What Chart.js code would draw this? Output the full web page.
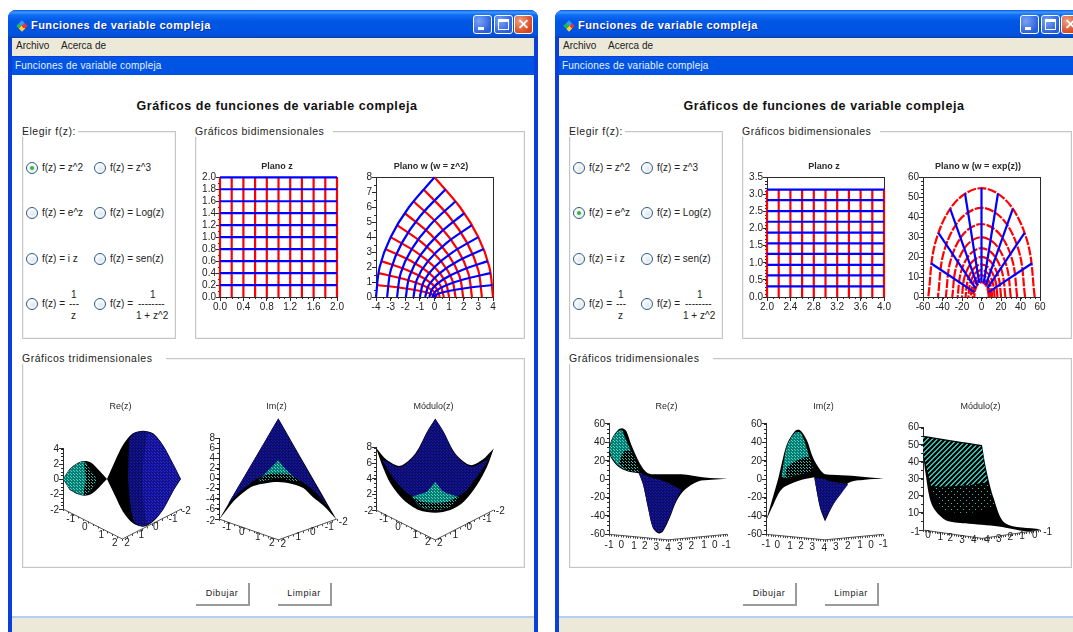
<!DOCTYPE html>
<html lang="es">
<head>
<meta charset="utf-8">
<title>Funciones de variable compleja</title>
<script src="https://cdn.jsdelivr.net/npm/chart.js@4/dist/chart.umd.min.js"></script>
<style>
html, body { margin: 0; width: 1073px; height: 632px; overflow: hidden; background: #fff; font-family: "Liberation Sans", Arial, sans-serif; color: #111; }
.box { position: absolute; box-sizing: border-box; white-space: nowrap; }
.frame { background: #0a3fdc; border-radius: 8px 8px 0 0; }
.bar { background: linear-gradient(#0a5ae8 0%, #3d95ff 8%, #0f6ef5 18%, #0256e4 40%, #0054e3 80%, #0a4fd0 92%, #003fb8 100%); border-radius: 8px 8px 0 0; }
.wintitle { color: #fff; font-weight: bold; font-size: 11px; letter-spacing: .45px; text-shadow: 1px 1px 0 #0f2f9a; }
.btn { border: 1px solid #fff; border-radius: 3px; background: radial-gradient(circle at 30% 30%, #7aa2f5, #2a5fdc 75%); }
.btn.close { background: radial-gradient(circle at 30% 30%, #f0a080, #d8431c 75%); }
.btn i { position: absolute; display: block; box-sizing: border-box; }
.panel { border: 1px solid #c6c6c6; box-shadow: inset 0 0 0 1px #f2f2f2; }
.legend { background: #fff; font-size: 10.5px; letter-spacing: .5px; padding-right: 7px; color: #222; }
.small { font-size: 10px; color: #222; }
.radio { border: 1px solid #2a5a88; border-radius: 50%; background: radial-gradient(circle at 60% 60%, #dfe6ee, #fff 70%); }
.radio.on::after { content: ""; position: absolute; left: 3px; top: 3px; width: 4px; height: 4px; border-radius: 50%; background: #35b53a; }
.push { border-right: 2px solid #9a9a9a; border-bottom: 2px solid #9a9a9a; font-size: 9px; letter-spacing: .6px; text-align: center; line-height: 21px; color: #222; }
</style>
</head>
<body>
<script>
const FONT = '"Liberation Sans", Arial, sans-serif';
const AXIS = '#2a2a2a';
const RED = '#ff0000';
const BLUE = '#0000ff';

// --- window text ---
const windowTitle = 'Funciones de variable compleja';
const heading = 'Gráficos de funciones de variable compleja';
const menuItems = ['Archivo', 'Acerca de'];
const radioLabels = ['f(z) = z^2', 'f(z) = z^3', 'f(z) = e^z', 'f(z) = Log(z)', 'f(z) = i z', 'f(z) = sen(z)', 'f(z) =', 'f(z) ='];

// --- Plano z, f = z^2 ---
const z1RedX = [0, 0.2, 0.4, 0.6, 0.8, 1, 1.2, 1.4, 1.6, 1.8, 2];
const z1BlueY = [0.2, 0.4, 0.6, 0.8, 1, 1.2, 1.4, 1.6, 1.8, 2];
const z1XTicks = [0, 0.4, 0.8, 1.2, 1.6, 2];
const z1XLabels = ['0.0', '0.4', '0.8', '1.2', '1.6', '2.0'];
const z1YTicks = [0, 0.2, 0.4, 0.6, 0.8, 1, 1.2, 1.4, 1.6, 1.8, 2];
const z1YLabels = ['0.0', '0.2', '0.4', '0.6', '0.8', '1.0', '1.2', '1.4', '1.6', '1.8', '2.0'];

// --- Plano w, w = z^2 ---
const w1Blue = [
  [[-.04, 0], [.21, .2], [.96, .4], [2.21, .6], [3.96, .8]],
  [[-.16, 0], [.09, .4], [.84, .8], [2.09, 1.2], [3.84, 1.6]],
  [[-.36, 0], [-.11, .6], [.64, 1.2], [1.89, 1.8], [3.64, 2.4]],
  [[-.64, 0], [-.39, .8], [.36, 1.6], [1.61, 2.4], [3.36, 3.2]],
  [[-1, 0], [-.75, 1], [0, 2], [1.25, 3], [3, 4]],
  [[-1.44, 0], [-1.19, 1.2], [-.44, 2.4], [.81, 3.6], [2.56, 4.8]],
  [[-1.96, 0], [-1.71, 1.4], [-.96, 2.8], [.29, 4.2], [2.04, 5.6]],
  [[-2.56, 0], [-2.31, 1.6], [-1.56, 3.2], [-.31, 4.8], [1.44, 6.4]],
  [[-3.24, 0], [-2.99, 1.8], [-2.24, 3.6], [-.99, 5.4], [.76, 7.2]],
  [[-4, 0], [-3.75, 2], [-3, 4], [-1.75, 6], [0, 8]],
];
const w1Red = [
  [[.04, 0], [-.21, .2], [-.96, .4], [-2.21, .6], [-3.96, .8]],
  [[.16, 0], [-.09, .4], [-.84, .8], [-2.09, 1.2], [-3.84, 1.6]],
  [[.36, 0], [.11, .6], [-.64, 1.2], [-1.89, 1.8], [-3.64, 2.4]],
  [[.64, 0], [.39, .8], [-.36, 1.6], [-1.61, 2.4], [-3.36, 3.2]],
  [[1, 0], [.75, 1], [0, 2], [-1.25, 3], [-3, 4]],
  [[1.44, 0], [1.19, 1.2], [.44, 2.4], [-.81, 3.6], [-2.56, 4.8]],
  [[1.96, 0], [1.71, 1.4], [.96, 2.8], [-.29, 4.2], [-2.04, 5.6]],
  [[2.56, 0], [2.31, 1.6], [1.56, 3.2], [.31, 4.8], [-1.44, 6.4]],
  [[3.24, 0], [2.99, 1.8], [2.24, 3.6], [.99, 5.4], [-.76, 7.2]],
  [[4, 0], [3.75, 2], [3, 4], [1.75, 6], [0, 8]],
];
const w1XTicks = [-4, -3, -2, -1, 0, 1, 2, 3, 4];
const w1XLabels = ['-4', '-3', '-2', '-1', '0', '1', '2', '3', '4'];
const w1YTicks = [0, 1, 2, 3, 4, 5, 6, 7, 8];
const w1YLabels = ['0', '1', '2', '3', '4', '5', '6', '7', '8'];

// --- Plano z, f = e^z ---
const z2RedX = [2, 2.2, 2.4, 2.6, 2.8, 3, 3.2, 3.4, 3.6, 3.8, 4];
const z2RedTop = 3.14;
const z2BlueY = [.31, .63, .94, 1.26, 1.57, 1.88, 2.2, 2.51, 2.83, 3.14];
const z2XTicks = [2, 2.4, 2.8, 3.2, 3.6, 4];
const z2XLabels = ['2.0', '2.4', '2.8', '3.2', '3.6', '4.0'];
const z2YTicks = [0, .5, 1, 1.5, 2, 2.5, 3, 3.5];
const z2YLabels = ['0.0', '0.5', '1.0', '1.5', '2.0', '2.5', '3.0', '3.5'];

// --- Plano w, w = exp(z) ---
const w2Red = [
  [[7.4, 0], [6.4, 3.7], [3.7, 6.4], [0, 7.4], [-3.7, 6.4], [-6.4, 3.7], [-7.4, 0]],
  [[9, 0], [7.8, 4.5], [4.5, 7.8], [0, 9], [-4.5, 7.8], [-7.8, 4.5], [-9, 0]],
  [[11, 0], [9.5, 5.5], [5.5, 9.5], [0, 11], [-5.5, 9.5], [-9.5, 5.5], [-11, 0]],
  [[13.5, 0], [11.7, 6.8], [6.8, 11.7], [0, 13.5], [-6.8, 11.7], [-11.7, 6.8], [-13.5, 0]],
  [[16.4, 0], [14.2, 8.2], [8.2, 14.2], [0, 16.4], [-8.2, 14.2], [-14.2, 8.2], [-16.4, 0]],
  [[20.1, 0], [17.4, 10], [10, 17.4], [0, 20.1], [-10, 17.4], [-17.4, 10], [-20.1, 0]],
  [[24.5, 0], [21.2, 12.3], [12.3, 21.2], [0, 24.5], [-12.3, 21.2], [-21.2, 12.3], [-24.5, 0]],
  [[30, 0], [26, 15], [15, 26], [0, 30], [-15, 26], [-26, 15], [-30, 0]],
  [[36.6, 0], [31.7, 18.3], [18.3, 31.7], [0, 36.6], [-18.3, 31.7], [-31.7, 18.3], [-36.6, 0]],
  [[44.7, 0], [38.7, 22.4], [22.4, 38.7], [0, 44.7], [-22.4, 38.7], [-38.7, 22.4], [-44.7, 0]],
  [[54.6, 0], [47.3, 27.3], [27.3, 47.3], [0, 54.6], [-27.3, 47.3], [-47.3, 27.3], [-54.6, 0]],
];
const w2Blue = [
  [[7, 2.3], [51.9, 16.9]],
  [[6, 4.3], [44.2, 32.1]],
  [[4.3, 6], [32.1, 44.2]],
  [[2.3, 7], [16.9, 51.9]],
  [[0, 7.4], [0, 54.6]],
  [[-2.3, 7], [-16.9, 51.9]],
  [[-4.3, 6], [-32.1, 44.2]],
  [[-6, 4.3], [-44.2, 32.1]],
  [[-7, 2.3], [-51.9, 16.9]],
];
const w2XTicks = [-60, -40, -20, 0, 20, 40, 60];
const w2XLabels = ['-60', '-40', '-20', '0', '20', '40', '60'];
const w2YTicks = [0, 10, 20, 30, 40, 50, 60];
const w2YLabels = ['0', '10', '20', '30', '40', '50', '60'];

// --- 3D surfaces: x is the position along the projected floor, y the function value.
// a repeated point keeps a sharp corner in the outline
const reLobeA = [[0, 0], [6.7, 1.33], [15, 2.18], [21.7, 2.4], [28.3, 2.18], [36.7, 1.07], [44, 0], [44, 0], [36.7, -1.02], [28.3, -2], [21.7, -2.22], [15, -2.04], [6.7, -1.47]];
const reLobeACyan = [[0, 0], [6.7, 1.24], [15, 2.09], [21.7, 2.31], [25, 1.64], [33, -.13], [25, -1.91], [20, -2.13], [15, -1.96], [6.7, -1.38]];
const reLobeADim = [[21, 2.2], [25, 1.6], [33, -.13], [25, -1.9], [21, -2.1], [23, 0]];
const reLobeB = [[44, 0], [51.7, 2.31], [60, 4.53], [70, 6.09], [80, 6.44], [90, 6.09], [100, 4.53], [110, 2.09], [118, 0], [118, 0], [110, -1.69], [100, -4.13], [90, -5.69], [80, -6.36], [70, -5.91], [60, -4.36], [51.7, -2.13]];
const reLobeBBlue = [[66, 5.2], [70, 6], [80, 6.36], [90, 6], [100, 4.45], [110, 2], [117.2, 0], [117.2, 0], [110, -1.6], [100, -4.05], [90, -5.6], [80, -6.28], [72, -5.85], [68, -4], [65, 0]];
const reLobeBBright = [[84, 6.1], [90, 5.9], [100, 4.35], [110, 1.9], [116.8, 0], [116.8, 0], [110, -1.5], [100, -3.95], [90, -5.5], [84, -5.9], [80, -2], [80, 2]];
const reTicks = [-4, -2, 0, 2, 4];
const reLabels = ['', '-2', '0', '2', '4'];
const reFloor = [[0, -4], [59.3, -8], [118.3, -4]];
const reFloorLabels = [[-8.3, -4.13, '-2'], [7.7, -5.33, '-1'], [21.7, -6.44, '0'], [38.3, -7.47, '1'], [51.7, -8.5, '2'], [64, -8.58, '2'], [78.3, -7.47, '1'], [92.7, -6.44, '0'], [110, -5.33, '-1'], [123.3, -4.36, '-2']];

const imShape = [[0, -8.13], [59.3, 12], [59.3, 12], [117.7, -8.13], [117.7, -8.13], [104.3, -5.33], [94, -3.7], [84.3, -1.87], [72, -1], [59.3, -.67], [47, -.9], [34.3, -1.47], [24, -2.8], [14.3, -4.53], [6, -6.6]];
const imBlue = [[59.3, 11.87], [59.3, 11.87], [109.3, -5.67], [109.3, -5.67], [94.3, -2.3], [77.7, 0], [59.3, 1.3], [41, .3], [24.3, -2], [9.3, -4.9], [9.3, -4.9]];
const imCyan = [[59.3, 3.67], [67.7, 1.67], [81, -.67], [81, -.67], [59.3, .13], [38.3, -.67], [38.3, -.67], [49.3, 1.67]];
const imCyanDim = [[38.3, -.67], [48, .8], [70, .8], [81, -.67], [59.3, .13]];
const imTicks = [-8, -6, -4, -2, 0, 2, 4, 6, 8];
const imLabels = ['', '-6', '-4', '-2', '0', '2', '4', '6', '8'];
const imFloor = [[0, -8], [59.3, -12.13], [117.7, -8]];
const imFloorLabels = [[-8.3, -8.53, '-2'], [7.7, -9.67, '-1'], [22.7, -10.67, '0'], [38.7, -11.67, '1'], [52.7, -12.87, '2'], [64.3, -13, '2'], [79.3, -11.67, '1'], [93.7, -10.67, '0'], [110.3, -9.67, '-1'], [124.3, -8.67, '-2']];

const modShape = [[0, 8], [11, 6.41], [24.3, 5.68], [39.3, 7.26], [51, 10.04], [59.3, 11.75], [59.3, 11.75], [67.7, 10.04], [79.3, 7.26], [94.3, 5.77], [106, 6.41], [117.7, 7.91], [117.7, 7.91], [111, 5.56], [101, 3.21], [87.7, 1.07], [74.3, 0], [59.3, -.34], [42.7, 0], [27.7, 1.28], [14.3, 3.42], [6, 5.77]];
const modBlue = [[59.3, 11.67], [59.3, 11.67], [67.7, 9.96], [79.3, 7.1], [94.3, 5.6], [107.7, 6.2], [114.3, 6.84], [114.3, 6.84], [101, 4.27], [84.3, 1.92], [59.3, 1.5], [34.3, 1.92], [17.7, 4.06], [6, 6.41], [6, 6.41], [11, 6.2], [24.3, 5.5], [39.3, 7.1], [51, 9.96]];
const modCyan = [[59.3, 3.63], [67.7, 2.35], [82.7, 1.71], [82.7, 1.71], [74.3, .43], [59.3, 0], [44.3, .43], [36, 1.71], [36, 1.71], [51, 2.35]];
const modCyanDim = [[36, 1.71], [48, 1], [70, 1], [82.7, 1.71], [74.3, .43], [59.3, 0], [44.3, .43]];
const modTicks = [0, 2, 4, 6, 8];
const modLabels = ['', '2', '4', '6', '8'];
const modFloor = [[0, 0], [59.3, -3.85], [117.7, 0]];
const modFloorLabels = [[-7.3, -.21, '-2'], [7.7, -1.15, '-1'], [22, -2.22, '0'], [39.3, -3.2, '1'], [51.7, -4.19, '2'], [63.7, -4.27, '2'], [79.3, -3.2, '1'], [93.3, -2.22, '0'], [111, -1.15, '-1'], [124.3, -.21, '-2']];

const expReShape = [[0, 35.5], [4, 46.4], [9, 53.6], [13, 55.4], [17.3, 52.5], [22.3, 37.3], [30.7, 17.4], [39, 6.5], [52.3, 5.4], [72.3, 5.2], [95.7, 1.8], [118.3, .4], [118.3, .4], [102.3, -.7], [89, -2.5], [75.7, -11.6], [67.3, -24.3], [60.7, -42.4], [54, -56.9], [49.7, -59], [44, -53.3], [39, -31.5], [34, -6.2], [29.7, 6.5], [29.7, 6.5], [19, 8.3], [9, 13.8], [2.3, 22.8], [0, 28.3]];
const expReCyan = [[0, 33], [4, 45], [9, 52], [13, 53.5], [15, 48], [22, 30], [29.5, 8], [29.5, 8], [19, 9.5], [9, 15], [2.3, 24]];
const expReCyanDim = [[10, 16], [15, 30], [22, 30], [29.5, 8], [19, 9.5]];
const expReBlue = [[29.7, 7.6], [29.7, 7.6], [34, -5], [39, -31], [44, -53], [49.7, -58], [54, -55], [60.7, -40.6], [67.3, -22.5], [72.3, -11.6], [72.3, -11.6], [55.7, -2.5], [39, 2.9]];
const expImShape = [[0, -45.3], [12.3, 1.1], [20.7, 37.3], [29, 52.5], [34, 53.3], [40.7, 42.8], [47.3, 22.8], [57.3, 6.5], [65.7, 4.7], [85.7, 3.6], [117.3, .4], [117.3, .4], [99, -.7], [82.3, -4.3], [69, -24.3], [59, -46], [59, -46], [54, -31.5], [48.3, 2], [48.3, 2], [32, -2], [15.7, -10.9], [5.7, -31.5]];
const expImCyan = [[15.7, 3], [15.7, 3], [20.7, 35], [29, 50.5], [35, 50], [42.3, 28], [46.3, 10], [46.3, 10], [32, 4.7], [19, 1.1]];
const expImCyanDim = [[19, 1.1], [22, 14], [42, 24], [46.3, 10], [32, 4.7]];
const expImBlue = [[48.3, 1.1], [48.3, 1.1], [54, -30], [59, -44], [59, -44], [65.7, -30], [75.7, -15], [82.3, -5.5], [82.3, -5.5], [65.7, -2.5], [55.7, 1.1]];
const expTicks = [-60, -40, -20, 0, 20, 40, 60];
const expLabels = ['-60', '-40', '-20', '0', '20', '40', '60'];
const expReFloor = [[0, -60], [59, -66], [118.3, -60]];
const expReFloorLabels = [[0, -71.4, '-1'], [12.3, -71.4, '0'], [25, -73.2, '1'], [35.7, -73.2, '2'], [47.3, -74.3, '3'], [59, -75, '4'], [70.7, -74.3, '3'], [82.3, -73.2, '2'], [95, -72.1, '1'], [105.7, -71.4, '0'], [117.3, -71.4, '-1']];
const expImFloor = [[0, -60], [59, -66], [117.3, -60]];
const expImFloorLabels = [[0, -70.7, '-1'], [11.3, -71.4, '0'], [24, -73.2, '1'], [35, -73.2, '2'], [46.3, -74.3, '3'], [58.3, -75, '4'], [69.7, -74.3, '3'], [81.7, -73.2, '2'], [94, -72.1, '1'], [105, -71.4, '0'], [117.3, -70.7, '-1']];

const expModShape = [[0, 55.3], [59, 49.8], [59, 49.8], [63, 36.1], [70.7, 18.6], [82.3, 3.9], [117.3, .4], [117.3, .4], [105.7, -1], [75.7, 2], [42.3, 3.9], [22.3, 5.9], [9, 14.6], [2.3, 34.2], [0, 45.9]];
const expModCyan = [[0, 54.5], [59, 49], [59, 49], [62, 36], [65, 28], [65, 28], [28, 25], [8, 26], [8, 26], [3, 38], [0, 46]];
const expModSparse = [[8, 25], [65, 27], [65, 27], [72, 14], [72, 14], [45, 10], [20, 11], [20, 11]];
const expModTicks = [0, 10, 20, 30, 40, 50, 60];
const expModLabels = ['', '10', '20', '30', '40', '50', '60'];
const expModFloor = [[0, 0], [59, -4.9], [117.3, 0]];
const expModFloorLabels = [[-7.7, -1.4, '-1'], [5, -3.3, '0'], [17.3, -4.4, '1'], [27.3, -4.9, '2'], [39, -5.9, '3'], [50.7, -6.2, '4'], [64, -6.2, '4'], [75.7, -5.3, '3'], [87.3, -4.4, '2'], [99, -3.8, '1'], [111.7, -2.9, '0'], [124.7, -1.4, '-1']];

// --- window furniture ---
function put(cls, x, y, w, h, html) {
  const d = document.createElement('div');
  d.className = 'box ' + cls;
  d.style.left = x + 'px';
  d.style.top = y + 'px';
  if (w) d.style.width = w + 'px';
  if (h) d.style.height = h + 'px';
  if (html) d.innerHTML = html;
  document.body.append(d);
  return d;
}

function buildWindow(off, selected) {
  put('frame', 8 + off, 10, 530, 622);
  put('bar', 8 + off, 10, 530, 28);
  const icon = put('', 18 + off, 22, 8, 8);
  icon.style.background = 'conic-gradient(#e33 0 25%, #fc3 0 50%, #2b4 0 75%, #39f 0)';
  icon.style.transform = 'rotate(45deg)';
  put('wintitle', 31 + off, 19, 0, 0, windowTitle);
  put('btn', 473 + off, 15, 19, 19, '<i style="left:4px;bottom:3px;width:6px;height:3px;background:#fff"></i>');
  put('btn', 494 + off, 15, 19, 19, '<i style="left:3px;top:3px;width:11px;height:11px;border:1px solid #fff;border-top-width:3px"></i>');
  put('btn close', 514 + off, 15, 19, 19, '<i style="left:3px;top:7px;width:11px;height:2px;background:#fff;transform:rotate(45deg)"></i><i style="left:3px;top:7px;width:11px;height:2px;background:#fff;transform:rotate(-45deg)"></i>');
  put('', 12 + off, 38, 522, 18).style.background = '#ece9d8';
  put('small', 16 + off, 40, 0, 0, menuItems[0]);
  put('small', 61 + off, 40, 0, 0, menuItems[1]);
  put('', 12 + off, 57, 522, 18).style.background = '#0054e3';
  const sub = put('small', 15 + off, 60, 0, 0, windowTitle);
  sub.style.color = '#e8f0ff';
  sub.style.letterSpacing = '.2px';
  put('', 12 + off, 75, 522, 541).style.background = '#fff';
  put('', 12 + off, 616, 522, 2).style.background = '#b4cdf0';
  put('', 12 + off, 618, 522, 14).style.background = '#ece9d8';
  const head = put('', off, 99, 554, 0, heading);
  head.style.cssText += 'text-align:center;font-weight:bold;font-size:12.5px;letter-spacing:.55px';

  put('panel', 22 + off, 131, 154, 208);
  put('panel', 195 + off, 131, 330, 208);
  put('panel', 22 + off, 358, 503, 210);
  put('legend', 22 + off, 125, 0, 0, 'Elegir f(z):').style.width = '56px';
  put('legend', 195 + off, 125, 0, 0, 'Gráficos bidimensionales').style.width = '138px';
  put('legend', 22 + off, 352, 0, 0, 'Gráficos tridimensionales').style.width = '144px';

  const rowY = [168, 213, 259, 304];
  radioLabels.forEach((text, i) => {
    const cx = i % 2 ? 100 : 32;
    const y = rowY[i >> 1];
    put('radio' + (i === selected ? ' on' : ''), cx - 6 + off, y - 6, 12, 12);
    put('small', cx + 10 + off, y - 6, 0, 0, text);
  });
  put('small', 71 + off, 289, 0, 0, '1');
  put('small', 69 + off, 298, 0, 0, '---');
  put('small', 71 + off, 310, 0, 0, 'z');
  put('small', 150 + off, 289, 0, 0, '1');
  put('small', 138 + off, 298, 0, 0, '--------');
  put('small', 136 + off, 310, 0, 0, '1 + z^2');

  put('push', 196 + off, 583, 54, 23, 'Dibujar');
  put('push', 278 + off, 583, 54, 23, 'Limpiar');
}

// --- chart helpers ---
function dotFill(bg, fg, size) {
  const c = document.createElement('canvas');
  c.width = c.height = size;
  const g = c.getContext('2d');
  g.fillStyle = bg;
  g.fillRect(0, 0, size, size);
  g.fillStyle = fg;
  g.fillRect(0, 0, 1, 1);
  if (size > 2) g.fillRect(size >> 1, size >> 1, 1, 1);
  return g.createPattern(c, 'repeat');
}

function stripeFill(bg, fg, size) {
  const c = document.createElement('canvas');
  c.width = c.height = size;
  const g = c.getContext('2d');
  g.fillStyle = bg;
  g.fillRect(0, 0, size, size);
  g.fillStyle = fg;
  for (let i = 0; i < size; i++) {
    g.fillRect(i, size - 1 - i, 1, 1);
    g.fillRect((i + 1) % size, size - 1 - i, 1, 1);
  }
  return g.createPattern(c, 'repeat');
}

const plotExtras = {
  id: 'plotExtras',
  afterLayout(chart) {
    // title centred on the whole canvas, not on the padded box
    chart.titleBlock.left = 0;
    chart.titleBlock.right = chart.width;
  },
  beforeDatasetsDraw(chart, args, o) {
    const { ctx, chartArea: a, scales } = chart;
    ctx.save();
    ctx.strokeStyle = AXIS;
    ctx.lineWidth = 1;
    if (o.frame) ctx.strokeRect(Math.round(a.left) + .5, Math.round(a.top) + .5, Math.round(a.width), Math.round(a.height));
    ctx.beginPath();
    if (o.minorX) {
      const s = scales.x;
      for (let v = s.min; v <= s.max + 1e-6; v += o.minorX) {
        const p = Math.round(s.getPixelForValue(v)) + .5;
        ctx.moveTo(p, a.bottom);
        ctx.lineTo(p, a.bottom + 2);
      }
    }
    if (o.minorY) {
      const s = scales.y;
      for (let v = s.min; v <= s.max + 1e-6; v += o.minorY) {
        const p = Math.round(s.getPixelForValue(v)) + .5;
        ctx.moveTo(a.left, p);
        ctx.lineTo(a.left - 2, p);
      }
    }
    ctx.stroke();
    ctx.restore();
  },
  beforeDatasetDraw(chart, args) {
    const fill = chart.data.datasets[args.index].surface;
    if (!fill) return;
    const { ctx } = chart;
    const line = args.meta.dataset;
    line.updateControlPoints(chart.chartArea);
    ctx.save();
    ctx.fillStyle = fill;
    ctx.beginPath();
    line.path(ctx);
    ctx.closePath();
    ctx.fill();
    ctx.restore();
  },
  afterDatasetsDraw(chart, args, o) {
    if (!o.floorLabels) return;
    const { ctx, scales } = chart;
    ctx.save();
    // small ticks along the two floor edges
    ctx.strokeStyle = '#444';
    ctx.lineWidth = 1;
    ctx.beginPath();
    for (let k = 0; k + 1 < o.floor.length; k++) {
      const x0 = scales.x.getPixelForValue(o.floor[k][0]);
      const y0 = scales.y.getPixelForValue(o.floor[k][1]);
      const x1 = scales.x.getPixelForValue(o.floor[k + 1][0]);
      const y1 = scales.y.getPixelForValue(o.floor[k + 1][1]);
      for (let t = 0; t <= o.floorTicks; t++) {
        const x = Math.round(x0 + (x1 - x0) * t / o.floorTicks) + .5;
        const y = y0 + (y1 - y0) * t / o.floorTicks;
        ctx.moveTo(x, y);
        ctx.lineTo(x, y + 2);
      }
    }
    ctx.stroke();
    ctx.font = '10px ' + FONT;
    ctx.fillStyle = '#222';
    ctx.textAlign = 'center';
    ctx.textBaseline = 'middle';
    o.floorLabels.forEach(([x, y, text]) => ctx.fillText(text, scales.x.getPixelForValue(x), scales.y.getPixelForValue(y)));
    ctx.restore();
  },
};

function axis(position, values, labels, fit) {
  return {
    type: 'linear',
    position,
    min: values[0],
    max: values[values.length - 1],
    afterBuildTicks(s) { s.ticks = values.map((v) => ({ value: v })); },
    afterFit(s) { if (position === 'bottom') s.height = fit; else s.width = fit; },
    grid: { drawOnChartArea: false, tickLength: 4, tickColor: AXIS },
    border: { color: AXIS },
    ticks: { autoSkip: false, maxRotation: 0, padding: 0, color: '#222', font: { size: 10, family: FONT }, callback: (v, i) => labels[i] },
  };
}

function pairs(list) {
  return list.map(([x, y]) => ({ x, y }));
}

function lineSet(points, color, extra) {
  return { data: pairs(points), showLine: true, borderColor: color, borderWidth: 2.2, pointRadius: 0, clip: false, tension: 0, capBezierPoints: false, ...extra };
}

function baseOptions(titleText, bold, titleGap) {
  return {
    responsive: false,
    animation: false,
    events: [],
    layout: { autoPadding: false, padding: 0 },
    plugins: {
      legend: { display: false },
      tooltip: { enabled: false },
      title: { display: true, text: titleText, color: '#2a2a2a', padding: titleGap, font: { size: 9, family: FONT, weight: bold ? 'bold' : 'normal', lineHeight: 1.2 } },
    },
  };
}

function addCanvas(left, top, w, h) {
  const c = document.createElement('canvas');
  c.width = w;
  c.height = h;
  c.style.cssText = `position:absolute;left:${left}px;top:${top}px`;
  document.body.append(c);
  return c;
}

// 2D plane: plot box is 117 x 120.5 px starting at plotLeft
function planeChart(plotLeft, width, titleText, sets, xAxis, yAxis, minorX, minorY) {
  const top = 158;
  const options = baseOptions(titleText, true, { top: 3, bottom: 5.5 });
  options.layout.padding = { right: width - 30 - 117 };
  options.scales = { x: axis('bottom', xAxis[0], xAxis[1], 20), y: axis('left', yAxis[0], yAxis[1], 30) };
  options.plugins.plotExtras = { frame: true, minorX, minorY };
  return new Chart(addCanvas(plotLeft - 30, top, width, 159), {
    type: 'scatter',
    data: { datasets: sets },
    options,
    plugins: [plotExtras],
  });
}

// 3D view: one x unit is one pixel along the projected floor, the y axis carries the real values
function surfaceChart(axisX, axisTop, axisBottom, titleText, layers, floor, floorLabels, ticks, labels, minorY, floorTicks) {
  const top = 398;
  const height = 160;
  const options = baseOptions(titleText, false, { top: 3.6, bottom: axisTop - top - 3.6 - 10.8 });
  options.layout.padding = { right: 25, bottom: top + height - axisBottom };
  options.scales = { x: { type: 'linear', display: false, min: 0, max: 125 }, y: axis('left', ticks, labels, 35) };
  options.plugins.plotExtras = { floor, floorLabels, floorTicks, minorY };
  const sets = layers.map(([pts, surface], i) => ({ ...lineSet(pts, 'transparent', { borderWidth: 0, tension: .3 }), surface, order: -i }));
  sets.push({ ...lineSet(floor, '#555', { borderWidth: 1 }), order: -100 });
  return new Chart(addCanvas(axisX - 35, top, 185, height), {
    type: 'scatter',
    data: { datasets: sets },
    options,
    plugins: [plotExtras],
  });
}

function gridSets(redX, redTop, blueY, blueFrom, blueTo) {
  const blue = blueY.map((y) => lineSet([[blueFrom, y], [blueTo, y]], BLUE));
  const red = redX.map((x) => lineSet([[x, 0], [x, redTop]], RED));
  return [...blue, ...red];
}

// --- draw ---
buildWindow(0, 0);
buildWindow(547, 2);

const BLACK = '#000';
const navy = dotFill('#0c0c6c', '#1a1aa8', 3);
const blueDots = dotFill('#12128e', '#2a2ad8', 3);
const cyanDots = dotFill('#0f7a70', '#36e0d0', 3);
const cyanDim = dotFill('#000', '#22c4b4', 3);
const cyanStripes = stripeFill('#000', '#22c4b4', 5);
const cyanSparse = dotFill('#000', '#22c4b4', 6);

planeChart(219.5, 174, 'Plano z', gridSets(z1RedX, 2, z1BlueY, 0, 2), [z1XTicks, z1XLabels], [z1YTicks, z1YLabels], .1, .1);
planeChart(376, 170, 'Plano w (w = z^2)',
  [...w1Blue.map((c) => lineSet(c, BLUE, { tension: .35 })), ...w1Red.map((c) => lineSet(c, RED, { tension: .35 }))],
  [w1XTicks, w1XLabels], [w1YTicks, w1YLabels], .5, .5);
planeChart(766.5, 174, 'Plano z', gridSets(z2RedX, z2RedTop, z2BlueY, 2, 4), [z2XTicks, z2XLabels], [z2YTicks, z2YLabels], .1, .1);
planeChart(922.5, 170, 'Plano w (w = exp(z))',
  [...w2Blue.map((c) => lineSet(c, BLUE)), ...w2Red.map((c) => lineSet(c, RED, { tension: .35, borderDash: [9, 1.5] }))],
  [w2XTicks, w2XLabels], [w2YTicks, w2YLabels], 5, 2);

surfaceChart(63.3, 449, 509, 'Re(z)', [[reLobeA, BLACK], [reLobeACyan, cyanDots], [reLobeADim, cyanDim], [reLobeB, BLACK], [reLobeBBlue, navy], [reLobeBBright, blueDots]], reFloor, reFloorLabels, reTicks, reLabels, .5, 12);
surfaceChart(219, 438.3, 519, 'Im(z)', [[imShape, BLACK], [imBlue, navy], [imCyan, cyanDots], [imCyanDim, cyanDim]], imFloor, imFloorLabels, imTicks, imLabels, 1, 12);
surfaceChart(375.7, 447.7, 510, 'Módulo(z)', [[modShape, BLACK], [modBlue, navy], [modCyan, cyanDots], [modCyanDim, cyanDim]], modFloor, modFloorLabels, modTicks, modLabels, .5, 12);

surfaceChart(609.3, 424, 534.3, 'Re(z)', [[expReShape, BLACK], [expReCyan, cyanDots], [expReCyanDim, cyanDim], [expReBlue, navy]], expReFloor, expReFloorLabels, expTicks, expLabels, 5, 25);
surfaceChart(766, 424, 534.3, 'Im(z)', [[expImShape, BLACK], [expImCyan, cyanDots], [expImCyanDim, cyanDim], [expImBlue, navy]], expImFloor, expImFloorLabels, expTicks, expLabels, 5, 25);
surfaceChart(922.7, 427.7, 530, 'Módulo(z)', [[expModShape, BLACK], [expModCyan, cyanStripes], [expModSparse, cyanSparse]], expModFloor, expModFloorLabels, expModTicks, expModLabels, 5, 25);
</script>
</body>
</html>
